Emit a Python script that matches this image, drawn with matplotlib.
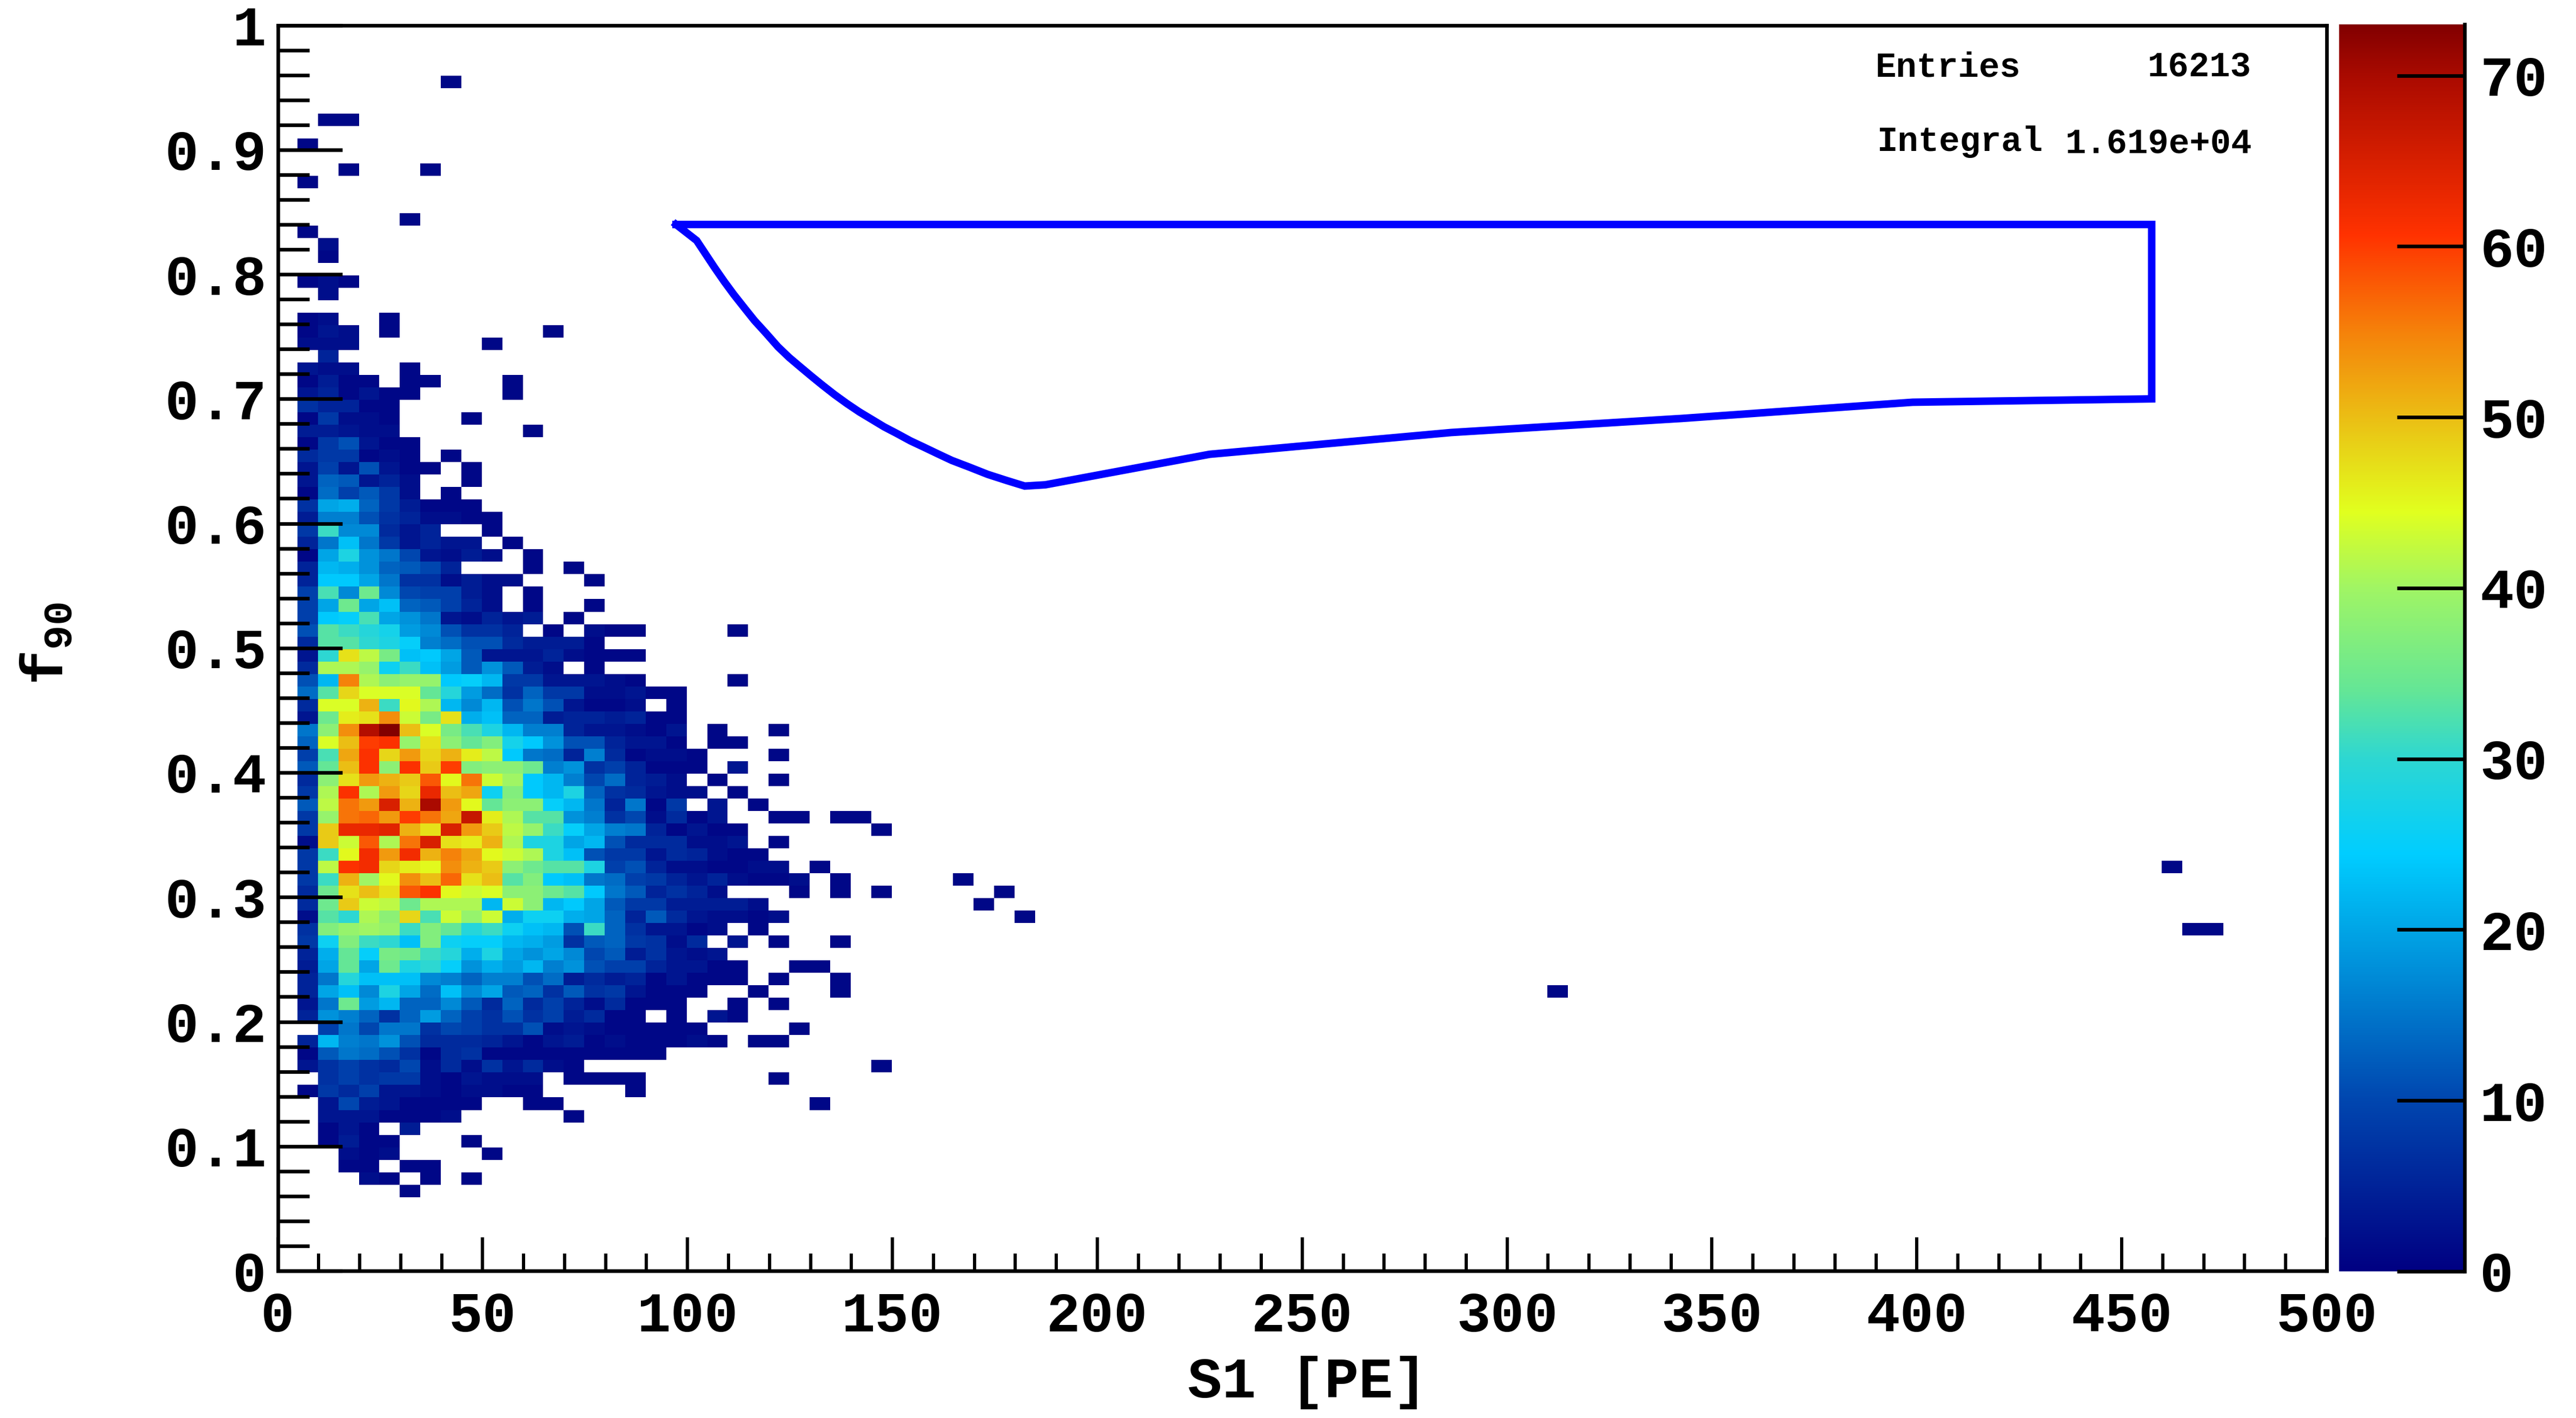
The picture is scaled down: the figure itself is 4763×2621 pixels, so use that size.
import numpy as np
import matplotlib
matplotlib.use("Agg")
import matplotlib.pyplot as plt
from matplotlib.colors import LinearSegmentedColormap
from matplotlib.ticker import MultipleLocator

# counts per f90 bin (row_NN = 0.NN-0.NN+1), first entry is the S1 5-10 PE bin
row_95 = [0, 0, 0, 0, 0, 0, 0, 1]
row_92 = [0, 1, 1]
row_90 = [1]
row_88 = [0, 0, 1, 0, 0, 0, 1]
row_87 = [1]
row_84 = [0, 0, 0, 0, 0, 1]
row_83 = [1]
row_82 = [0, 2]
row_81 = [0, 1]
row_79 = [1, 2, 1]
row_78 = [0, 2]
row_76 = [1, 2, 0, 0, 1]
row_75 = [1, 3, 2, 0, 1, 0, 0, 0, 0, 0, 0, 0, 1]
row_74 = [2, 2, 2, 0, 0, 0, 0, 0, 0, 1]
row_73 = [0, 5]
row_72 = [3, 2, 2, 0, 0, 1]
row_71 = [1, 4, 1, 1, 0, 1, 1, 0, 0, 0, 1]
row_70 = [3, 5, 1, 3, 1, 1, 0, 0, 0, 0, 1]
row_69 = [7, 5, 5, 1, 1]
row_68 = [1, 8, 2, 2, 1, 0, 0, 0, 1]
row_67 = [4, 4, 3, 2, 2, 0, 0, 0, 0, 0, 0, 1]
row_66 = [1, 8, 11, 3, 1, 1]
row_65 = [6, 8, 8, 1, 2, 1, 0, 1]
row_64 = [3, 9, 3, 11, 3, 1, 1, 0, 1]
row_63 = [3, 13, 12, 3, 5, 2, 0, 0, 1]
row_62 = [1, 14, 9, 12, 8, 2, 0, 1]
row_61 = [7, 20, 21, 13, 8, 4, 1, 1, 1]
row_60 = [4, 16, 16, 11, 7, 5, 2, 2, 1, 1]
row_59 = [8, 31, 17, 17, 6, 3, 5, 0, 0, 1]
row_58 = [5, 15, 23, 15, 8, 3, 5, 3, 3, 0, 1]
row_57 = [1, 20, 28, 18, 15, 10, 3, 2, 4, 2, 0, 1]
row_56 = [5, 22, 21, 18, 13, 12, 10, 5, 0, 0, 0, 1, 0, 1]
row_55 = [5, 24, 24, 20, 15, 7, 7, 2, 4, 2, 2, 0, 0, 0, 1]
row_54 = [9, 32, 17, 35, 17, 10, 9, 9, 4, 2, 0, 1]
row_53 = [9, 20, 35, 20, 23, 13, 12, 9, 5, 2, 0, 1, 0, 0, 1]
row_52 = [9, 24, 25, 32, 20, 18, 15, 3, 2, 5, 3, 4, 0, 1]
row_51 = [11, 33, 31, 29, 27, 19, 17, 11, 7, 7, 5, 0, 1, 0, 2, 1, 1, 0, 0, 0, 0, 1]
row_50 = [6, 33, 33, 30, 28, 25, 16, 14, 11, 11, 6, 4, 4, 4, 1]
row_49 = [3, 30, 47, 42, 36, 23, 24, 20, 12, 3, 3, 3, 5, 2, 1, 1, 1]
row_48 = [6, 41, 41, 39, 26, 31, 23, 19, 12, 18, 12, 4, 2, 0, 1]
row_47 = [11, 22, 55, 41, 38, 39, 39, 24, 25, 22, 8, 8, 3, 3, 3, 2, 1, 0, 0, 0, 0, 1]
row_46 = [14, 33, 48, 44, 44, 44, 34, 29, 19, 14, 7, 13, 8, 8, 2, 2, 3, 1, 1]
row_45 = [6, 44, 44, 51, 31, 45, 41, 22, 17, 22, 11, 15, 11, 3, 1, 1, 2, 0, 1]
row_44 = [3, 35, 46, 47, 54, 43, 36, 47, 21, 23, 13, 13, 4, 5, 5, 4, 5, 1, 1]
row_43 = [15, 38, 54, 69, 73, 50, 44, 36, 32, 28, 22, 16, 16, 5, 3, 3, 2, 1, 3, 0, 1, 0, 0, 1]
row_42 = [13, 44, 50, 60, 61, 39, 47, 38, 34, 37, 27, 24, 18, 11, 11, 5, 3, 3, 1, 0, 1, 1]
row_41 = [9, 32, 52, 61, 48, 53, 48, 51, 46, 42, 24, 15, 14, 5, 16, 6, 1, 2, 2, 1, 0, 0, 0, 1]
row_40 = [12, 34, 50, 61, 38, 61, 49, 60, 37, 38, 38, 35, 16, 18, 7, 9, 5, 1, 1, 1, 0, 3]
row_39 = [6, 38, 47, 53, 51, 49, 58, 45, 56, 43, 40, 24, 22, 16, 10, 14, 5, 4, 2, 0, 1, 0, 0, 1]
row_38 = [8, 41, 61, 41, 53, 48, 63, 50, 52, 26, 37, 24, 22, 28, 13, 7, 6, 3, 2, 2, 0, 1]
row_37 = [12, 42, 56, 53, 65, 51, 70, 53, 45, 34, 38, 38, 25, 22, 15, 5, 15, 1, 8, 0, 3, 0, 1]
row_36 = [8, 39, 56, 57, 53, 60, 56, 52, 67, 46, 41, 33, 33, 18, 16, 7, 10, 2, 6, 1, 3, 0, 0, 1, 1, 0, 1, 1]
row_35 = [8, 49, 63, 63, 64, 51, 47, 65, 53, 49, 42, 39, 31, 25, 20, 16, 15, 5, 1, 3, 1, 1, 0, 0, 0, 0, 0, 0, 1]
row_34 = [2, 49, 43, 58, 41, 56, 65, 47, 46, 51, 41, 28, 28, 20, 22, 11, 6, 6, 6, 2, 2, 3, 0, 1]
row_33 = [8, 31, 45, 62, 53, 62, 51, 55, 52, 45, 43, 41, 28, 23, 11, 8, 8, 3, 6, 5, 2, 1, 1]
row_32 = [8, 42, 61, 62, 48, 46, 45, 54, 51, 49, 38, 35, 33, 33, 28, 9, 11, 5, 2, 2, 1, 1, 2, 2, 0, 1]
row_31 = [8, 31, 51, 40, 45, 54, 50, 57, 47, 50, 33, 37, 24, 23, 15, 14, 9, 8, 5, 3, 5, 2, 1, 1, 2, 0, 1]
row_30 = [6, 35, 47, 50, 47, 58, 61, 45, 43, 44, 38, 38, 35, 33, 24, 15, 12, 5, 7, 5, 2, 0, 0, 0, 1, 0, 1, 0, 1]
row_29 = [6, 35, 49, 43, 42, 35, 41, 41, 41, 22, 43, 38, 22, 24, 20, 12, 8, 8, 4, 4, 4, 4, 2]
row_28 = [2, 33, 30, 41, 38, 48, 32, 43, 39, 43, 21, 26, 26, 21, 20, 13, 5, 12, 6, 3, 2, 2, 1, 2]
row_27 = [7, 37, 39, 40, 39, 31, 37, 34, 29, 31, 26, 23, 22, 11, 31, 13, 7, 3, 3, 1, 2, 0, 1]
row_26 = [8, 26, 37, 31, 30, 23, 37, 26, 25, 25, 22, 21, 19, 7, 12, 13, 8, 7, 2, 6, 0, 3, 0, 1, 0, 0, 1]
row_25 = [5, 21, 34, 25, 36, 35, 31, 29, 21, 28, 20, 18, 20, 17, 10, 12, 4, 7, 3, 2, 3]
row_24 = [4, 20, 34, 20, 35, 28, 30, 25, 18, 21, 19, 22, 16, 18, 11, 9, 9, 5, 3, 3, 1, 1, 0, 0, 1, 1]
row_23 = [5, 15, 29, 23, 23, 23, 17, 16, 13, 16, 16, 11, 14, 4, 6, 4, 5, 1, 3, 1, 1, 1, 0, 1, 0, 0, 1]
row_22 = [5, 20, 23, 17, 28, 20, 14, 23, 17, 20, 12, 13, 7, 12, 7, 8, 3, 1, 1, 1, 0, 0, 1, 0, 0, 0, 1]
row_21 = [3, 15, 35, 19, 22, 13, 13, 17, 12, 6, 13, 6, 9, 5, 2, 6, 1, 1, 1, 0, 0, 1, 0, 1]
row_20 = [5, 18, 16, 13, 7, 13, 19, 13, 9, 7, 11, 7, 9, 4, 6, 1, 1, 0, 1, 0, 3, 1]
row_19 = [0, 9, 15, 10, 15, 15, 7, 10, 9, 7, 7, 11, 2, 3, 2, 1, 1, 1, 1, 1, 0, 0, 0, 0, 1]
row_18 = [5, 22, 16, 15, 18, 11, 6, 6, 6, 5, 3, 1, 3, 4, 1, 2, 1, 1, 1, 2, 1, 0, 1, 1]
row_17 = [1, 12, 15, 14, 11, 7, 1, 6, 7, 1, 1, 1, 1, 1, 1, 1, 1, 1]
row_16 = [3, 7, 9, 7, 6, 10, 2, 6, 2, 7, 3, 6, 2, 1, 0, 0, 0, 0, 0, 0, 0, 0, 0, 0, 0, 0, 0, 0, 1]
row_15 = [0, 7, 9, 7, 8, 8, 2, 1, 3, 2, 2, 2, 0, 1, 1, 1, 1, 0, 0, 0, 0, 0, 0, 1]
row_14 = [1, 8, 6, 9, 3, 3, 2, 1, 2, 2, 1, 1, 0, 0, 0, 0, 1]
row_13 = [0, 3, 10, 4, 3, 1, 1, 1, 1, 0, 0, 1, 1, 0, 0, 0, 0, 0, 0, 0, 0, 0, 0, 0, 0, 1]
row_12 = [0, 3, 3, 3, 1, 1, 1, 2, 0, 0, 0, 0, 0, 1]
row_11 = [0, 1, 3, 1, 0, 4]
row_10 = [0, 1, 4, 1, 1, 0, 0, 0, 1]
row_09 = [0, 0, 2, 1, 2, 0, 0, 0, 0, 1]
row_08 = [0, 0, 1, 1, 0, 1, 1]
row_07 = [0, 0, 0, 2, 1, 0, 1, 0, 1]
row_06 = [0, 0, 0, 0, 0, 1]

# lone single-count bins far out in S1
far_s1_bin = [33, 35, 34, 36, 62, 92, 93, 94]
far_f90_bin = [31, 30, 29, 28, 22, 32, 27, 27]

# acceptance region drawn in blue
region_s1 = [97.2, 102.23, 106.6, 108.96, 111.31, 114.0, 116.36, 119.05, 122.08, 124.78, 127.47,
             130.16, 132.85, 135.88, 138.91, 141.94, 144.97, 148.0, 151.03, 154.39, 157.76,
             161.12, 164.49, 168.86, 173.24, 177.95, 182.3, 187.3, 227.4, 286.4, 342.7, 399,
             457.3, 457.3, 97.2]
region_f90 = [.84, .8271, .8054, .7942, .7837, .7725, .7628, .7531, .7418, .7333, .7258,
              .7184, .7112, .7034, .6962, .6895, .6835, .6775, .6723, .6663, .6611,
              .6558, .6506, .6451, .6394, .6344, .63, .631, .6555, .673, .6843, .6973,
              .70, .84, .84]

x_ticks = [0, 50, 100, 150, 200, 250, 300, 350, 400, 450, 500]
y_ticks = [0, .1, .2, .3, .4, .5, .6, .7, .8, .9, 1]
y_tick_labels = ["0", "0.1", "0.2", "0.3", "0.4", "0.5", "0.6", "0.7", "0.8", "0.9", "1"]
z_ticks = [0, 10, 20, 30, 40, 50, 60, 70]
z_max = 73

palette_levels = [0, 10, 20, 24.4, 30, 34, 40, 44.5, 50, 55, 60.7, 70, 73]
palette_colors = [(0, 0, 130), (0, 70, 175), (0, 165, 230), (0, 205, 255), (45, 215, 210),
                  (100, 230, 150), (160, 245, 100), (225, 255, 30), (235, 190, 20),
                  (245, 130, 10), (255, 50, 0), (170, 10, 0), (130, 0, 0)]

W, H = 4763, 2621
FONT = "Liberation Mono"


def box(x0, y0, x1, y1):
    # pixel box of the reference, y from the top, to figure fractions
    return [x0 / W, 1 - y1 / H, (x1 - x0) / W, (y1 - y0) / H]


plt.rcParams["font.family"] = FONT
plt.rcParams["font.weight"] = "bold"
plt.rcParams["mathtext.fontset"] = "custom"
plt.rcParams["mathtext.rm"] = FONT + ":bold"
plt.rcParams["mathtext.bf"] = FONT + ":bold"

counts = np.zeros((100, 100))
for j in range(100):
    row = globals().get("row_%02d" % j)
    if row is not None:
        counts[j, 1:1 + len(row)] = row
counts[far_f90_bin, far_s1_bin] = 1

cmap = LinearSegmentedColormap.from_list(
    "palette",
    [(v / z_max, tuple(c / 255 for c in col)) for v, col in zip(palette_levels, palette_colors)],
    N=512)

fig = plt.figure(figsize=(W / 100, H / 100), dpi=100)
ax = fig.add_axes(box(513.5, 46.5, 4302, 2349))

# the cells sit a pixel or two left of and below the ticks in the original
s1_edges = np.linspace(0, 500, 101) - 0.2
f90_edges = np.linspace(0, 1, 101) - 0.0008
mesh = ax.pcolormesh(s1_edges, f90_edges, np.ma.masked_equal(counts, 0),
                     cmap=cmap, vmin=0, vmax=z_max, zorder=1)
ax.plot(region_s1, region_f90, color="#0000ff", lw=10, solid_joinstyle="miter", zorder=3)

ax.set_xlim(0, 500)
ax.set_ylim(0, 1)
ax.set_xticks(x_ticks)
ax.set_yticks(y_ticks)
ax.set_yticklabels(y_tick_labels)
ax.xaxis.set_minor_locator(MultipleLocator(10))
ax.yaxis.set_minor_locator(MultipleLocator(0.02))
ax.tick_params(axis="x", which="major", direction="in", length=45, width=4.3, pad=27, labelsize=75)
ax.tick_params(axis="x", which="minor", direction="in", length=23, width=4.3)
ax.tick_params(axis="y", which="major", direction="in", length=86, width=4.8, pad=15, labelsize=75)
ax.tick_params(axis="y", which="minor", direction="in", length=42, width=4.8)
for side in ax.spines:
    ax.spines[side].set_linewidth(4.8)
    ax.spines[side].set_zorder(5)
ax.set_axisbelow(False)

cax = fig.add_axes(box(4325, 45, 4557.5, 2350))
cb = fig.colorbar(mesh, cax=cax)
cb.set_ticks(z_ticks)
cb.outline.set_visible(False)
cb.ax.spines["right"].set_visible(True)
cb.ax.spines["right"].set_linewidth(4.8)
cb.ax.tick_params(axis="y", direction="in", length=90, width=4.8, pad=20, labelsize=75)
cb.ax.minorticks_off()

fig.text(2417 / W, 1 - 2556 / H, "S1 [PE]", fontsize=76, ha="center", va="center")
fig.text(88 / W, 1 - 1190 / H, r"$\mathbf{f_{90}}$", fontsize=77, rotation=90, ha="center", va="center")

fig.text(3468 / W, 1 - 141 / H, "Entries", fontsize=46, ha="left", va="baseline")
fig.text(4163 / W, 1 - 141 / H, "16213", fontsize=46, ha="right", va="baseline")
fig.text(3470 / W, 1 - 279 / H, "Integral", fontsize=46, ha="left", va="baseline")
fig.text(4164 / W, 1 - 284 / H, "1.619e+04", fontsize=46, ha="right", va="baseline")

fig.savefig("out.png", dpi=100)
